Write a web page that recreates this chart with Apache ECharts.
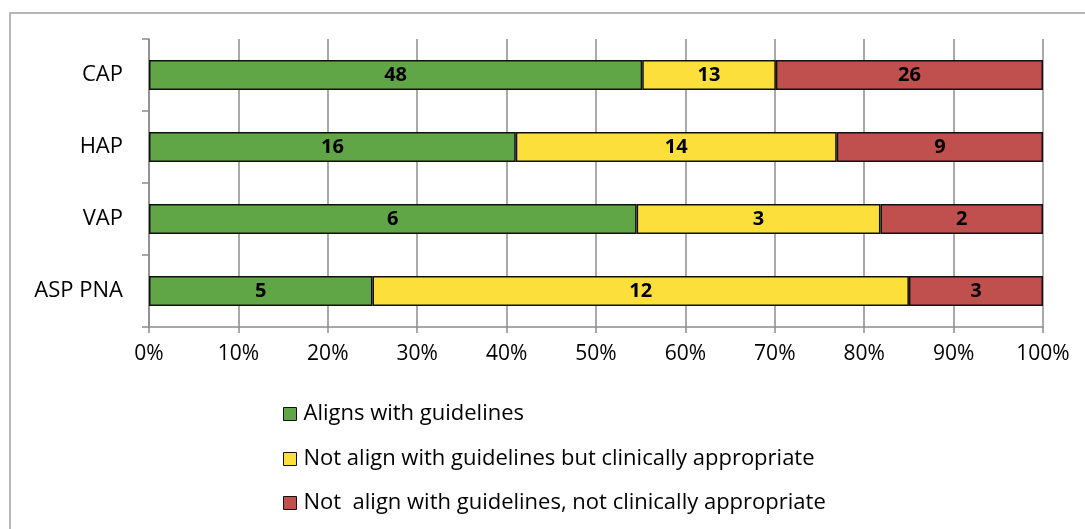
<!DOCTYPE html>
<html><head><meta charset="utf-8">
<script src="https://cdn.jsdelivr.net/npm/echarts@6/dist/echarts.min.js"></script>
<style>html,body{margin:0;padding:0;background:#fff}#c{width:1085px;height:529px}</style>
</head><body><div id="c"></div>
<script>
var categories = ['CAP', 'HAP', 'VAP', 'ASP PNA'];
var alignsCounts = [48, 16, 6, 5];
var notAlignApproCounts = [13, 14, 3, 12];
var notAlignNotApproCounts = [26, 9, 2, 3];
var seriesNames = ['Aligns with guidelines', 'Not align with guidelines but clinically appropriate', 'Not  align with guidelines, not clinically appropriate'];
var tickLabels = ['0%','10%','20%','30%','40%','50%','60%','70%','80%','90%','100%'];
var colors = ['#60A646', '#FDDF3C', '#C0504D'];

var countsList = [alignsCounts, notAlignApproCounts, notAlignNotApproCounts];
var totals = categories.map(function(_, i){ return alignsCounts[i] + notAlignApproCounts[i] + notAlignNotApproCounts[i]; });
var FONT = 'Open Sans';

var chart = echarts.init(document.getElementById('c'));
var series = countsList.map(function(arr, s){
  return {
    name: seriesNames[s], type: 'bar', stack: 'all', barWidth: 30,
    data: arr.map(function(v, i){ return v / totals[i] * 100; }),
    itemStyle: {color: colors[s], borderColor: '#111', borderWidth: 1.5},
    label: {show: true, position: 'inside', color: '#000', fontWeight: 'bold', fontSize: 20, fontFamily: FONT,
      formatter: function(p){ return String(arr[p.dataIndex]); }},
    emphasis: {disabled: true}, animation: false
  };
});
var legends = seriesNames.map(function(n, i){
  return {data: [n], left: 278, top: [398, 443, 487][i], itemWidth: 13, itemHeight: 13, itemGap: 0,
    icon: 'rect', selectedMode: false,
    itemStyle: {borderColor: '#111', borderWidth: 1},
    textStyle: {fontSize: 22, fontFamily: FONT, color: '#000', padding: [0,0,0,2]}};
});
chart.setOption({
  animation: false,
  graphic: [{type: 'rect', shape: {x: 10, y: 13, width: 1200, height: 700}, style: {fill: 'none', stroke: '#a0a0a0', lineWidth: 1.5}, z: -1}],
  legend: legends,
  grid: {left: 149, right: 42, top: 39, bottom: 202, containLabel: false},
  xAxis: {type: 'value', min: 0, max: 100, interval: 10,
    axisLine: {show: true, lineStyle: {color: '#8c8c8c', width: 1.5}},
    axisTick: {show: true, length: 6, lineStyle: {color: '#8c8c8c', width: 1.5}},
    splitLine: {show: true, lineStyle: {color: '#8c8c8c', width: 1.5}},
    axisLabel: {margin: 17, fontSize: 21, fontFamily: FONT, color: '#000',
      formatter: function(v){ return tickLabels[Math.round(v/10)]; }}},
  yAxis: {type: 'category', data: categories, inverse: true,
    axisLine: {show: true, lineStyle: {color: '#8c8c8c', width: 1.5}},
    axisTick: {show: true, length: 7, lineStyle: {color: '#8c8c8c', width: 1.5}},
    axisLabel: {margin: 26, fontSize: 22, fontFamily: FONT, color: '#000'}},
  series: series
});
</script></body></html>
